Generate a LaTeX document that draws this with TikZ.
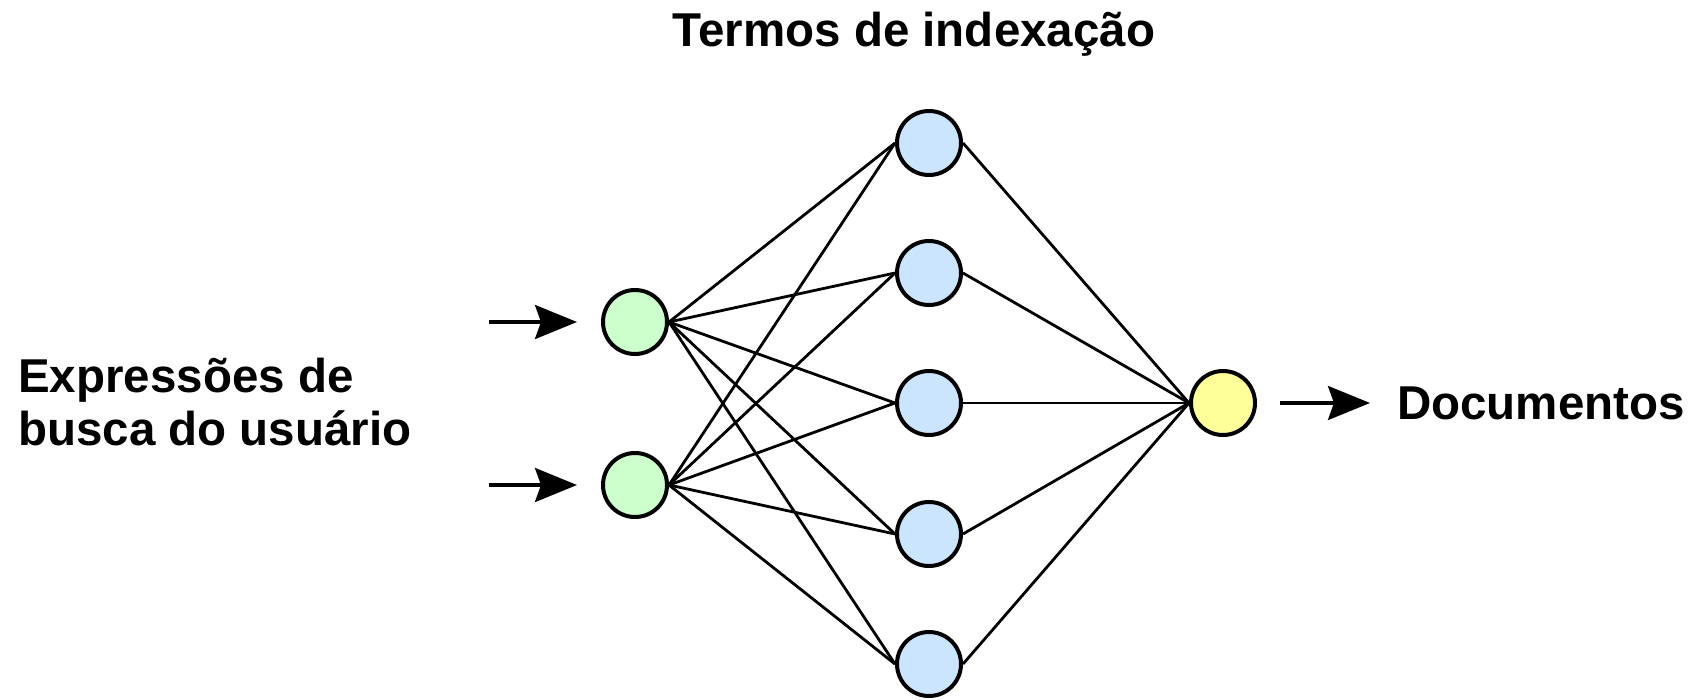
\documentclass[tikz,border=0pt]{standalone}
\usepackage{fontspec}
\setmainfont{Liberation Sans}
\usetikzlibrary{arrows.meta}
\usetikzlibrary{positioning}
\definecolor{querygreen}{HTML}{CCFFCC}
\definecolor{termblue}{HTML}{CCE5FF}
\definecolor{docyellow}{HTML}{FFFF99}
\tikzset{
neuron/.style={
	circle,
	minimum size=64pt,
	inner sep=0pt,
	draw=black,
	line width=4pt
},
link/.style={
	draw=black,
	line width=2.8pt
},
arrow/.style={
	-{Stealth[length=42pt,width=34pt,inset=6pt]},
	draw=black,
	line width=3.2pt
},
textlabel/.style={
	font=\fontsize{47.5}{53}\selectfont\bfseries,
	inner sep=0pt,
	align=left
}
}

\begin{document}
\begin{tikzpicture}[x=1pt, y=-1pt]
\useasboundingbox (0,0) rectangle (1694,699);

% query nodes
\node (query1) [neuron, fill=querygreen] at (635,322) {};
\node (query2) [neuron, fill=querygreen] at (635,485) {};

% index terms
\foreach \j/\y in {1/143, 2/273, 3/403, 4/534, 5/664}
  \node (term\j) [neuron, fill=termblue] at (929,\y) {};

% documents
\node (doc) [neuron, fill=docyellow] at (1223,403) {};

% labels
\node (termos) [textlabel, anchor=base] at (914,46) {Termos de indexação};
\node (busca) [textlabel, anchor=base west] at (18,445) {Expressões de\\busca do usuário};
\node (docs) [textlabel, anchor=west] at (1397,403) {Documentos};

% links
\foreach \i in {1,2}
  \foreach \j in {1,...,5}
    \draw[link] (query\i.east) -- (term\j.west);
\foreach \j in {1,...,5}
  \draw[link] (term\j.east) -- (doc.west);

% input and output arrows
\coordinate (in1) at (489,322);
\coordinate (in2) at (489,485);
\draw[arrow, shorten >=24pt] (in1) -- (query1.west);
\draw[arrow, shorten >=24pt] (in2) -- (query2.west);
\draw[arrow, shorten <=23pt, shorten >=27pt] (doc.east) -- (docs.west);

\end{tikzpicture}
\end{document}
